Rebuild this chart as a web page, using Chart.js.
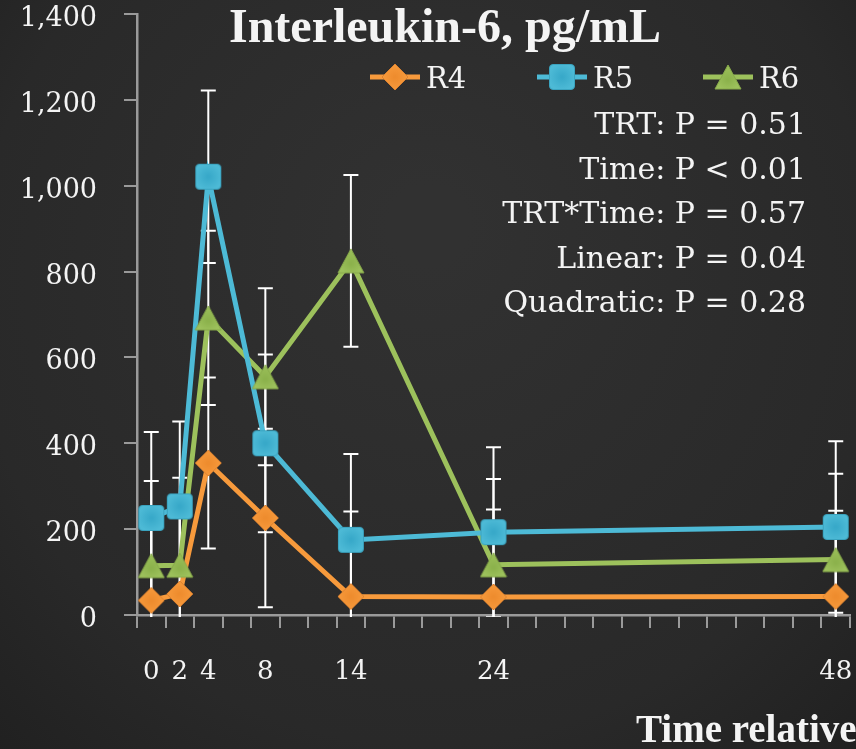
<!DOCTYPE html>
<html>
<head>
<meta charset="utf-8">
<script src="https://cdn.jsdelivr.net/npm/chart.js@4/dist/chart.umd.min.js"></script>
<style>
  html, body { margin: 0; padding: 0; background: #232323; }
  #wrap { width: 856px; height: 749px; position: relative; }
  canvas { display: block; }
</style>
</head>
<body>
<div id="wrap"><canvas id="il6"></canvas></div>
<script>
// Sampling times (h) and treatment means of IL-6 (pg/mL) with their SE
const hours = [0, 2, 4, 8, 14, 24, 48];
const r4 = [34, 49, 354, 226, 43, 42, 43];
const r5 = [226, 253, 1021, 400, 175, 193, 205];
const r6 = [115, 116, 692, 555, 825, 117, 129];
const r4Err = [200, 200, 199, 208, 198, 204, 200];
const r5Err = [200, 198, 201, 207, 200, 198, 200];
const r6Err = [197, 204, 203, 206, 200, 200, 200];
const seriesNames = ['R4', 'R5', 'R6'];
const yTicks = [0, 200, 400, 600, 800, 1000, 1200, 1400];
const xTickMarks = [-1, 1, 3, 5, 7, 9, 11, 13, 15, 17, 19, 21, 23, 25, 27, 29, 31, 33, 35, 37, 39, 41, 43, 45, 47, 49];
const statLines = [
  'TRT: P = 0.51',
  'Time: P < 0.01',
  'TRT*Time: P = 0.57',
  'Linear: P = 0.04',
  'Quadratic: P = 0.28'
];
const titleText = 'Interleukin-6, pg/mL';
const xTitleText = 'Time relative to challenge, h';

const styles = [
  { color: '#F79A3C', inner: '#EE8C2E', edge: '#DC8230', shape: 'diamond' },
  { color: '#4DBAD6', inner: '#38A9C9', edge: '#3AA3BF', shape: 'square' },
  { color: '#9DC15C', inner: '#8CB24C', edge: '#87A94A', shape: 'triangle' }
];
const means = [r4, r5, r6];
const errs = [r4Err, r5Err, r6Err];

const SERIF = '"DejaVu Serif", serif';
const WHITE = '#f4f4f4';
const AXIS = '#9a9a9a';

// marker sprites, each centred on its bounding box
function makeMarker(st) {
  const c = document.createElement('canvas');
  c.width = 28; c.height = 28;
  const g = c.getContext('2d');
  const m = 14;
  g.beginPath();
  if (st.shape === 'diamond') {
    g.moveTo(m, 1); g.lineTo(27, m); g.lineTo(m, 27); g.lineTo(1, m); g.closePath();
  } else if (st.shape === 'square') {
    const r = 3.5, a = 1.5, b = 26.5;
    g.moveTo(a + r, a); g.lineTo(b - r, a); g.arcTo(b, a, b, a + r, r);
    g.lineTo(b, b - r); g.arcTo(b, b, b - r, b, r);
    g.lineTo(a + r, b); g.arcTo(a, b, a, b - r, r);
    g.lineTo(a, a + r); g.arcTo(a, a, a + r, a, r);
    g.closePath();
  } else {
    g.moveTo(m, 2); g.lineTo(27, 26); g.lineTo(1, 26); g.closePath();
  }
  const grad = g.createRadialGradient(m, st.shape === 'triangle' ? 17 : m, 1, m, m, 13);
  grad.addColorStop(0, st.inner);
  grad.addColorStop(1, st.color);
  g.fillStyle = grad;
  g.fill();
  g.lineWidth = 1;
  g.strokeStyle = st.edge;
  g.stroke();
  return c;
}
const markers = styles.map(makeMarker);

function pts(vals) { return hours.map((h, i) => ({ x: h, y: vals[i] })); }

// lines first (drawn underneath), then markers on top of every line
const datasets = [];
means.forEach((vals, k) => {
  datasets.push({
    label: seriesNames[k] + ' line',
    data: pts(vals),
    borderColor: styles[k].color,
    borderWidth: 5,
    pointRadius: 0,
    tension: 0,
    fill: false,
    order: 10 + k
  });
});
means.forEach((vals, k) => {
  datasets.push({
    label: seriesNames[k],
    data: pts(vals),
    showLine: false,
    pointStyle: markers[k],
    pointRadius: 14,
    order: 3 - k
  });
});

const chalkboard = {
  id: 'chalkboard',
  beforeDraw(chart) {
    const { ctx, width, height } = chart;
    ctx.save();
    const g = ctx.createRadialGradient(width * 0.5, height * 0.3, 40, width * 0.5, height * 0.45, width * 0.85);
    g.addColorStop(0, '#313131');
    g.addColorStop(0.6, '#292929');
    g.addColorStop(1, '#1a1a1a');
    ctx.fillStyle = g;
    ctx.fillRect(0, 0, width, height);
    ctx.restore();
  }
};

const errorBars = {
  id: 'errorBars',
  beforeDatasetsDraw(chart) {
    const { ctx, chartArea } = chart;
    const xs = chart.scales.x, ys = chart.scales.y;
    ctx.save();
    ctx.beginPath();
    ctx.rect(chartArea.left, chartArea.top - 2, chartArea.right - chartArea.left, chartArea.bottom - chartArea.top + 4);
    ctx.clip();
    ctx.strokeStyle = '#ffffff';
    ctx.lineWidth = 2;
    const cap = 7.5;
    means.forEach((vals, k) => {
      vals.forEach((v, i) => {
        const px = xs.getPixelForValue(hours[i]);
        const hi = ys.getPixelForValue(v + errs[k][i]);
        const lo = ys.getPixelForValue(v - errs[k][i]);
        ctx.beginPath();
        ctx.moveTo(px, hi); ctx.lineTo(px, lo);
        ctx.moveTo(px - cap, hi); ctx.lineTo(px + cap, hi);
        ctx.moveTo(px - cap, lo); ctx.lineTo(px + cap, lo);
        ctx.stroke();
      });
    });
    ctx.restore();
  }
};

const annotations = {
  id: 'annotations',
  afterDraw(chart) {
    const { ctx } = chart;
    const xs = chart.scales.x;
    ctx.save();
    ctx.fillStyle = WHITE;

    // hour labels under the axis
    ctx.font = '26px ' + SERIF;
    ctx.textAlign = 'center';
    ctx.textBaseline = 'alphabetic';
    hours.forEach(h => ctx.fillText(String(h), xs.getPixelForValue(h), 679));

    // title
    ctx.font = 'bold 48px "Liberation Serif", serif';
    ctx.textAlign = 'center';
    ctx.fillText(titleText, 445, 42);

    // legend
    const legendX = [370, 537, 703];
    ctx.font = '29px ' + SERIF;
    ctx.textAlign = 'left';
    seriesNames.forEach((name, k) => {
      const x0 = legendX[k];
      ctx.strokeStyle = styles[k].color;
      ctx.lineWidth = 5;
      ctx.beginPath();
      ctx.moveTo(x0, 77); ctx.lineTo(x0 + 50, 77);
      ctx.stroke();
      Chart.helpers.drawPoint(ctx, { pointStyle: markers[k], radius: 14, rotation: 0 }, x0 + 25, 77);
      ctx.fillStyle = WHITE;
      ctx.fillText(name, x0 + 56, 88);
    });

    // statistics
    ctx.font = '30px ' + SERIF;
    ctx.textAlign = 'right';
    statLines.forEach((s, i) => ctx.fillText(s, 806, 134 + i * 44.6));

    // x axis title
    ctx.font = 'bold 39px "Liberation Serif", serif';
    ctx.textAlign = 'left';
    ctx.fillText(xTitleText, 636, 742);
    ctx.restore();
  }
};

new Chart(document.getElementById('il6'), {
  type: 'line',
  data: { datasets },
  options: {
    responsive: true,
    maintainAspectRatio: false,
    animation: false,
    layout: { autoPadding: false, padding: { top: 14, right: 6, bottom: 0, left: 0 } },
    plugins: { legend: { display: false }, tooltip: { enabled: false }, title: { display: false } },
    scales: {
      x: {
        type: 'linear',
        position: 'bottom',
        min: -1,
        max: 49,
        afterBuildTicks(scale) { scale.ticks = xTickMarks.map(v => ({ value: v })); },
        afterFit(scale) {
          scale.height = 134;
          scale.paddingLeft = 0;
          scale.paddingRight = 0;
        },
        grid: { drawOnChartArea: false, drawTicks: true, tickLength: 13, color: AXIS, lineWidth: 2 },
        border: { color: AXIS, width: 2.5 },
        ticks: { autoSkip: false, callback: () => '', padding: 0 }
      },
      y: {
        min: 0,
        max: 1400,
        afterBuildTicks(scale) { scale.ticks = yTicks.map(v => ({ value: v })); },
        afterFit(scale) {
          scale.width = 137;
          scale.paddingTop = 0;
          scale.paddingBottom = 0;
        },
        grid: { drawOnChartArea: false, drawTicks: true, tickLength: 13, color: AXIS, lineWidth: 2 },
        border: { color: AXIS, width: 2.5 },
        ticks: {
          color: WHITE,
          font: { family: SERIF, size: 27 },
          padding: 27,
          labelOffset: 5,
          callback: v => v.toLocaleString('en-US')
        }
      }
    }
  },
  plugins: [chalkboard, errorBars, annotations]
});
</script>
</body>
</html>
